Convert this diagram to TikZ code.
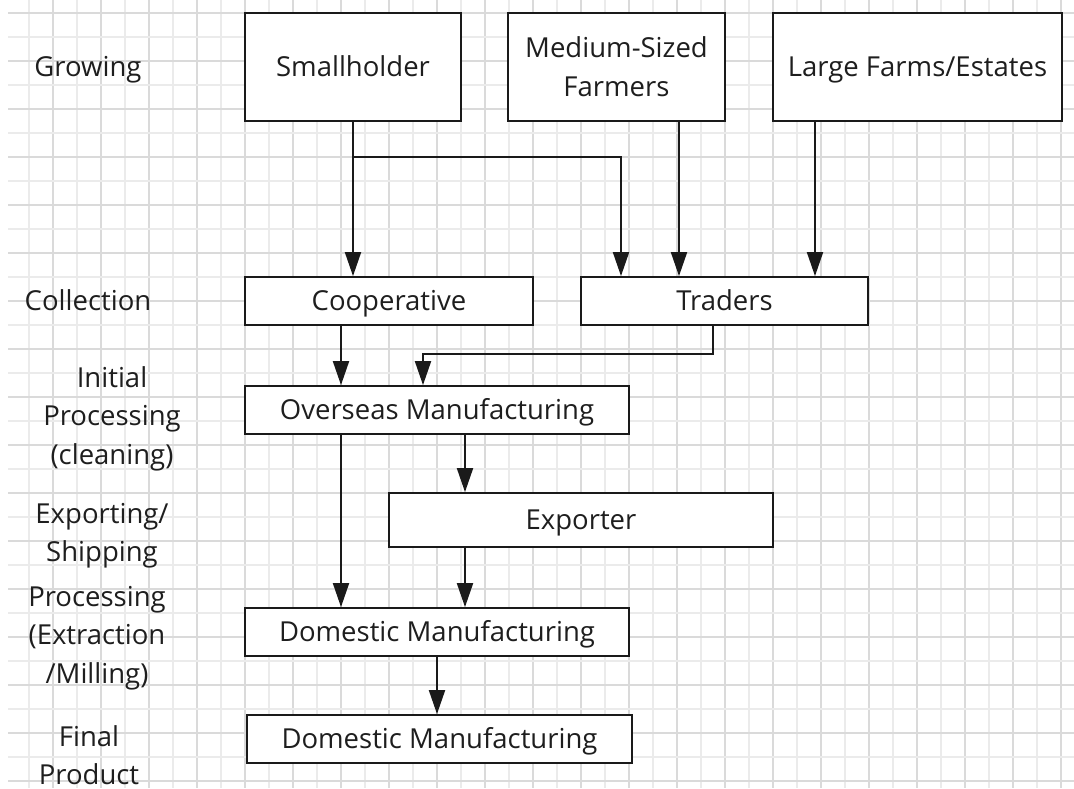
\documentclass[tikz,border=0pt]{standalone}
\usepackage{fontspec}
\setmainfont{Open Sans}
\usetikzlibrary{arrows.meta}
\definecolor{gridlight}{HTML}{EBEBEB}
\definecolor{griddark}{HTML}{DADADA}
\definecolor{ink}{HTML}{1A1A1A}
\definecolor{label}{HTML}{1E1E1E}
\begin{document}
\begin{tikzpicture}[x=1pt,y=-1pt,
  txt/.style={font=\fontsize{27.5}{38.5}\selectfont, text=label, inner sep=0pt},
  one/.style={text height=22pt, text depth=4pt},
  box/.style={txt, draw=ink, line width=1.8pt, fill=white, align=center},
  stage/.style={txt, align=center},
  flow/.style={draw=ink, line width=1.9pt, -{Triangle[length=24pt,width=16pt]}}
]
\useasboundingbox (0,0) rectangle (1074,788);
\fill[white] (0,0) rectangle (1074,788);

% background grid
\foreach \k in {0,...,43}{
  \ifodd\k \def\gc{griddark}\else\def\gc{gridlight}\fi
  \draw[\gc, line width=1.1pt] (29+24*\k,0) -- (29+24*\k,788);
}
\foreach \k in {0,...,32}{
  \ifodd\k \def\gc{gridlight}\else\def\gc{griddark}\fi
  \draw[\gc, line width=1.1pt] (8,13+24*\k) -- (1074,13+24*\k);
}

% stage labels
\node[stage, one] (grow) at (88,67) {Growing};
\node[stage, one] (coll) at (88,301) {Collection};
\node[stage] (init) at (112,418.5) {Initial\\Processing\\(cleaning)};
\node[stage] (ship) at (102,535.5) {Exporting/\\Shipping};
\node[stage] (proc) at (97,638) {Processing\\(Extraction\\/Milling)};
\node[stage] (final) at (89,755) {Final\\Product};

% actors
\node[box, one, minimum width=216pt, minimum height=108pt] (small) at (353,67) {Smallholder};
\node[box, minimum width=217pt, minimum height=108pt] (medium) at (616.5,67) {\rule{0pt}{27pt}Medium-Sized\\Farmers\vphantom{g}};
\node[box, one, minimum width=289pt, minimum height=108pt] (large) at (917.5,67) {Large Farms/Estates};
\node[box, one, minimum width=288pt, minimum height=48pt] (coop) at (389,301) {Cooperative};
\node[box, one, minimum width=287pt, minimum height=48pt] (traders) at (724.5,301) {Traders};
\node[box, one, minimum width=384pt, minimum height=48pt] (overseas) at (437,410) {Overseas Manufacturing};
\node[box, one, minimum width=384pt, minimum height=54pt] (exporter) at (581,520) {Exporter};
\node[box, one, minimum width=384pt, minimum height=48pt] (dom1) at (437,632) {Domestic Manufacturing};
\node[box, one, minimum width=385pt, minimum height=48pt] (dom2) at (439.5,739) {Domestic Manufacturing};

% connector columns and bends
\coordinate (split) at (353,157);
\coordinate (xa) at (621,0);
\coordinate (xm) at (679,0);
\coordinate (xl) at (815,0);
\coordinate (xc) at (341,0);
\coordinate (bend) at (713,354);
\coordinate (xo) at (423,0);
\coordinate (xe) at (465,0);

% flows
\draw[flow] (small.south) -- (small.south |- coop.north);
\draw[flow] (split) -| (traders.north -| xa);
\draw[flow] (medium.south -| xm) -- (traders.north -| xm);
\draw[flow] (large.south -| xl) -- (traders.north -| xl);
\draw[flow] (coop.south -| xc) -- (overseas.north -| xc);
\draw[flow] (traders.south -| bend) -- (bend) -| (overseas.north -| xo);
\draw[flow] (overseas.south -| xc) -- (dom1.north -| xc);
\draw[flow] (overseas.south -| xe) -- (exporter.north -| xe);
\draw[flow] (exporter.south -| xe) -- (dom1.north -| xe);
\draw[flow] (dom1.south) -- (dom1.south |- dom2.north);
\end{tikzpicture}
\end{document}
